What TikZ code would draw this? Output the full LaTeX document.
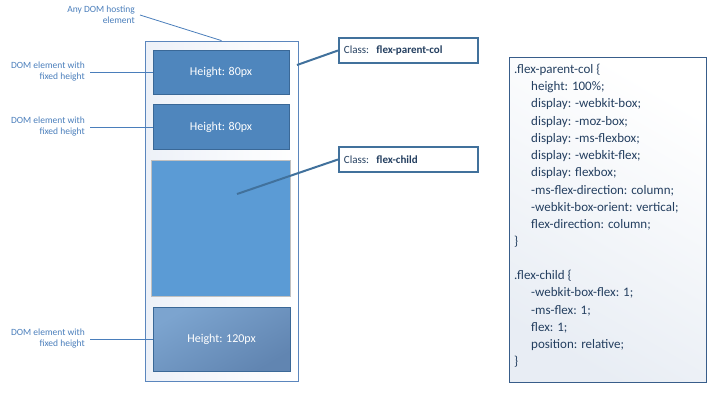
\documentclass[tikz,border=0pt]{standalone}
\usepackage{fontspec}
\setmainfont{Carlito}
\usetikzlibrary{positioning}
\definecolor{labelblue}{HTML}{4A7EBB}
\definecolor{hostblue}{HTML}{5B86BD}
\definecolor{hostfill}{HTML}{EDF1F8}
\definecolor{fixfill}{HTML}{4F86BD}
\definecolor{fixdraw}{HTML}{3A6897}
\definecolor{childfill}{HTML}{5B9BD5}
\definecolor{childdraw}{HTML}{C0C0C0}
\definecolor{bigtop}{HTML}{7CA4CF}
\definecolor{bigbot}{HTML}{6185B1}
\definecolor{classblue}{HTML}{41719C}
\definecolor{classtext}{HTML}{243F60}
\definecolor{cssdraw}{HTML}{385D8A}
\definecolor{cssfill}{HTML}{E8EDF4}
\begin{document}
\begin{tikzpicture}[x=1pt,y=-1pt]
\def\lh{17.2}
\tikzset{host box/.style={
	draw=hostblue,
	line width=0.8pt,
	left color=hostfill,
	right color=white,
	minimum width=153pt,
	minimum height=340pt
},
fixed box/.style={
	draw=fixdraw,
	line width=0.8pt,
	fill=fixfill,
	text=white,
	font=\fontsize{12}{14}\selectfont,
	minimum width=136pt,
	minimum height=44pt
},
side label/.style={
	anchor=east,
	align=right,
	text=labelblue,
	inner xsep=5pt,
	font=\fontsize{9.5}{11}\selectfont
},
thin link/.style={
	draw=labelblue,
	line width=0.8pt
},
class box/.style={
	draw=classblue,
	line width=1.8pt,
	fill=white,
	anchor=west,
	text=classtext,
	text width=129pt,
	inner xsep=5pt,
	align=left,
	minimum height=25pt,
	font=\fontsize{11}{13}\selectfont
},
class link/.style={
	draw=classblue,
	line width=2pt
},
css line/.style={
	anchor=west,
	inner sep=0pt,
	text=classtext,
	font=\fontsize{13}{15}\selectfont
}}
\useasboundingbox (0,0) rectangle (714,400);
% the hosting element and its three children
\node[host box] (host) at (221.5,211) {};
\node[fixed box] (top) at (221,72) {Height: 80px};
\node[fixed box, minimum height=45pt] (mid) at (221,127) {Height: 80px};
\node[draw=childdraw, line width=0.8pt, fill=childfill,
	minimum width=139pt, minimum height=136pt] (child) at (220.5,228) {};
\node[fixed box, top color=bigtop, bottom color=bigbot, shading angle=30,
	minimum width=137pt, minimum height=64pt] (big) at (221.5,339) {Height: 120px};
% labels on the left
\node[side label] (hostlbl) at (140,15) {Any DOM hosting\\element};
\node[side label] (toplbl) at (90,72) {DOM element with\\fixed height};
\node[side label] (midlbl) at (90,127) {DOM element with\\fixed height};
\node[side label] (biglbl) at (90,339) {DOM element with\\fixed height};
\draw[thin link] (hostlbl.east) -- (host.north);
\draw[thin link] (toplbl.east) -- (top.west);
\draw[thin link] (midlbl.east) -- (mid.west);
\draw[thin link] (biglbl.east) -- (big.west);
% class call-outs
\node[class box] (parcls) at (338,50.5) {Class:~~\textbf{flex-parent-col}};
\node[class box] (chcls) at (338,159.5) {Class:~~\textbf{flex-child}};
\coordinate (hostpt) at (297,65);
\coordinate (childpt) at (237,194);
\draw[class link] (hostpt) -- (parcls.west);
\draw[class link] (childpt) -- (chcls.west);
% css listing
\node[draw=cssdraw, line width=1pt, top color=white, bottom color=cssfill, shading angle=-30,
	minimum width=197pt, minimum height=325pt] (css) at (607.5,219.5) {};
\def\parentrule{{.flex-parent-col \{},
	{\hspace{17pt}height: 100\%;},
	{\hspace{17pt}display: -webkit-box;},
	{\hspace{17pt}display: -moz-box;},
	{\hspace{17pt}display: -ms-flexbox;},
	{\hspace{17pt}display: -webkit-flex;},
	{\hspace{17pt}display: flexbox;},
	{\hspace{17pt}-ms-flex-direction: column;},
	{\hspace{17pt}-webkit-box-orient: vertical;},
	{\hspace{17pt}flex-direction: column;},
	{\}}}
\def\childrule{{.flex-child \{},
	{\hspace{17pt}-webkit-box-flex: 1;},
	{\hspace{17pt}-ms-flex: 1;},
	{\hspace{17pt}flex: 1;},
	{\hspace{17pt}position: relative;},
	{\}}}
\foreach \ln [count=\i] in \parentrule
{
	\node[css line] (pc\i) at (514,70+\i*\lh-\lh) {\ln};
}
\foreach \ln [count=\i] in \childrule
{
	\node[css line] (ch\i) at (514,276+\i*\lh-\lh) {\ln};
}
\end{tikzpicture}
\end{document}
